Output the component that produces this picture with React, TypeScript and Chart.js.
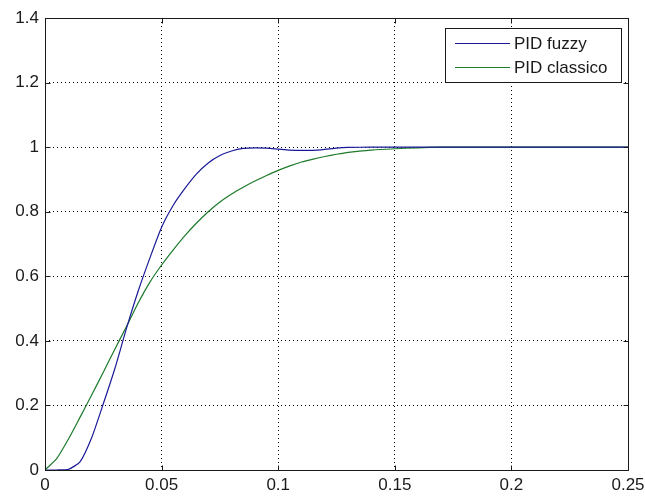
import React, { useEffect, useRef } from "react";
import { Chart, registerables } from "chart.js";

Chart.register(...registerables);

const times = [0, 0.005, 0.01, 0.015, 0.02, 0.025, 0.03, 0.035, 0.04, 0.045, 0.05, 0.055, 0.06, 0.065, 0.07, 0.075, 0.08, 0.085, 0.09, 0.095, 0.1, 0.105, 0.11, 0.115, 0.12, 0.125, 0.13, 0.14, 0.15, 0.16, 0.17, 0.18, 0.2, 0.22, 0.25];
const pidFuzzy = [0, 0, 0.002, 0.025, 0.1, 0.205, 0.315, 0.44, 0.555, 0.657, 0.752, 0.82, 0.872, 0.917, 0.951, 0.974, 0.988, 0.996, 0.998, 0.997, 0.994, 0.991, 0.99, 0.99, 0.993, 0.997, 0.999, 1.0, 1.0, 1.0, 1.0, 1.0, 1.0, 1.0, 1.0];
const pidClassico = [0, 0.035, 0.095, 0.163, 0.232, 0.303, 0.375, 0.445, 0.518, 0.582, 0.635, 0.682, 0.726, 0.765, 0.8, 0.83, 0.855, 0.876, 0.895, 0.912, 0.928, 0.942, 0.954, 0.963, 0.971, 0.978, 0.984, 0.991, 0.995, 0.998, 1.0, 1.0, 1.0, 1.0, 1.0];

const seriesLabels = ["PID fuzzy", "PID classico"];
const seriesColors = ["#1a1a96", "#1d7a2a"];

const xTicks = [0, 0.05, 0.1, 0.15, 0.2, 0.25];
const xTickLabels = ["0", "0.05", "0.1", "0.15", "0.2", "0.25"];
const yTicks = [0, 0.2, 0.4, 0.6, 0.8, 1, 1.2, 1.4];
const yTickLabels = ["0", "0.2", "0.4", "0.6", "0.8", "1", "1.2", "1.4"];

const FONT = "'Liberation Sans', Arial, sans-serif";

const boxPlugin = {
  id: "matlabBox",
  afterDraw(chart: any) {
    const ctx = chart.ctx;
    const { left, right, top, bottom } = chart.chartArea;
    const xs = chart.scales.x;
    const ys = chart.scales.y;
    ctx.save();
    ctx.strokeStyle = "#1a1a1a";
    ctx.lineWidth = 1;
    ctx.setLineDash([]);
    const L = Math.round(left) + 0.5;
    const R = Math.round(right) + 0.5;
    const T = Math.round(top) + 0.5;
    const B = Math.round(bottom) + 0.5;
    ctx.beginPath();
    ctx.rect(L, T, R - L, B - T);
    ctx.stroke();
    ctx.beginPath();
    xTicks.forEach((v) => {
      const px = Math.round(xs.getPixelForValue(v)) + 0.5;
      ctx.moveTo(px, B);
      ctx.lineTo(px, B - 5);
      ctx.moveTo(px, T);
      ctx.lineTo(px, T + 5);
    });
    yTicks.forEach((v) => {
      const py = Math.round(ys.getPixelForValue(v)) + 0.5;
      ctx.moveTo(L, py);
      ctx.lineTo(L + 5, py);
      ctx.moveTo(R, py);
      ctx.lineTo(R - 5, py);
    });
    ctx.stroke();

    // legend box
    const bx = 445.5, by = 28.5, bw = 176, bh = 54;
    ctx.fillStyle = "#ffffff";
    ctx.fillRect(bx, by, bw, bh);
    ctx.strokeStyle = "#1a1a1a";
    ctx.strokeRect(bx, by, bw, bh);
    ctx.font = `17px ${FONT}`;
    ctx.textBaseline = "middle";
    ctx.textAlign = "left";
    chart.data.datasets.forEach((ds: any, i: number) => {
      const y = Math.round(by + 14 + i * 24.5) + 0.5;
      ctx.strokeStyle = ds.borderColor;
      ctx.beginPath();
      ctx.moveTo(455, y);
      ctx.lineTo(510, y);
      ctx.stroke();
      ctx.fillStyle = "#1a1a1a";
      ctx.fillText(ds.label, 514, y + 1);
    });
    ctx.restore();
  },
};

export default function App() {
  const ref = useRef<HTMLCanvasElement | null>(null);
  useEffect(() => {
    if (!ref.current) return;
    const chart = new Chart(ref.current, {
      type: "line",
      data: {
        datasets: [
          {
            label: seriesLabels[0],
            data: times.map((t, i) => ({ x: t, y: pidFuzzy[i] })),
            borderColor: seriesColors[0],
            borderWidth: 1.2,
            pointRadius: 0,
            fill: false,
            tension: 0.2,
          },
          {
            label: seriesLabels[1],
            data: times.map((t, i) => ({ x: t, y: pidClassico[i] })),
            borderColor: seriesColors[1],
            borderWidth: 1.2,
            pointRadius: 0,
            fill: false,
            tension: 0.2,
          },
        ],
      },
      options: {
        animation: false,
        responsive: false,
        maintainAspectRatio: false,
        layout: { padding: { left: 0, right: 17, top: 18, bottom: 0 } },
        plugins: { legend: { display: false }, tooltip: { enabled: false } },
        scales: {
          x: {
            type: "linear",
            min: 0,
            max: 0.25,
            afterBuildTicks: (s: any) => {
              s.ticks = xTicks.map((v) => ({ value: v }));
            },
            afterFit: (s: any) => {
              s.height = 26;
              s.paddingLeft = 0;
              s.paddingRight = 0;
            },
            ticks: {
              autoSkip: false,
              maxRotation: 0,
              padding: 5,
              color: "#1a1a1a",
              font: { family: FONT, size: 17 },
              callback: (v: any) => {
                const i = xTicks.findIndex((t) => Math.abs(t - v) < 1e-9);
                return i >= 0 ? xTickLabels[i] : "";
              },
            },
            grid: { color: "#000000", lineWidth: 1, drawTicks: false },
            border: { display: false, dash: [1, 3] },
          },
          y: {
            type: "linear",
            min: 0,
            max: 1.4,
            afterBuildTicks: (s: any) => {
              s.ticks = yTicks.map((v) => ({ value: v }));
            },
            afterFit: (s: any) => {
              s.width = 45;
              s.paddingTop = 0;
              s.paddingBottom = 0;
            },
            ticks: {
              autoSkip: false,
              padding: 6,
              color: "#1a1a1a",
              font: { family: FONT, size: 17 },
              callback: (v: any) => {
                const i = yTicks.findIndex((t) => Math.abs(t - v) < 1e-9);
                return i >= 0 ? yTickLabels[i] : "";
              },
            },
            grid: { color: "#000000", lineWidth: 1, drawTicks: false },
            border: { display: false, dash: [1, 3] },
          },
        },
      },
      plugins: [boxPlugin],
    } as any);
    return () => chart.destroy();
  }, []);
  return (
    <div style={{ position: "fixed", left: 0, top: 0, width: 645, height: 496, background: "#ffffff" }}>
      <canvas ref={ref} width={645} height={496} style={{ display: "block", width: 645, height: 496 }} />
    </div>
  );
}
